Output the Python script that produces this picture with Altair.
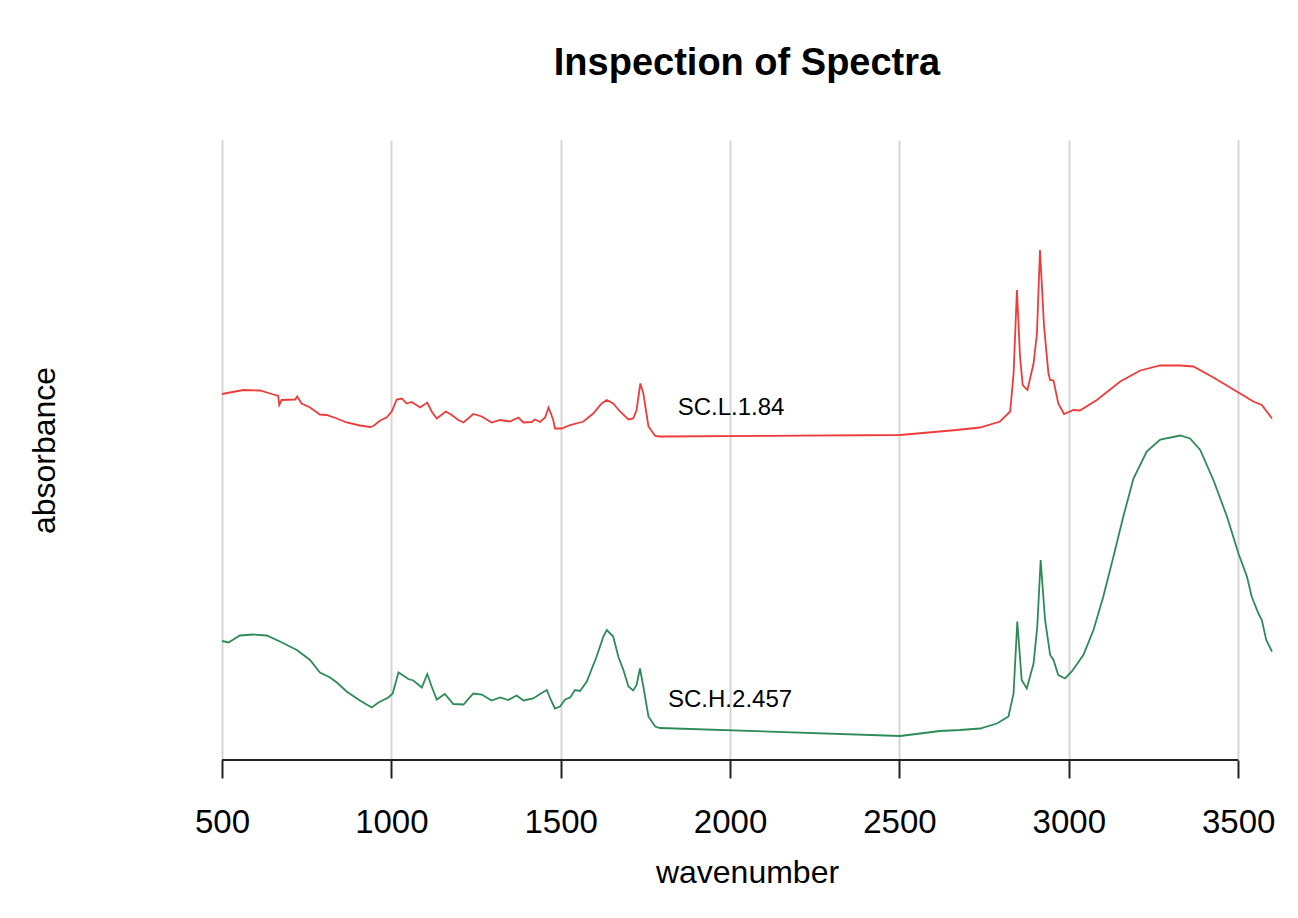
import altair as alt
import pandas as pd

# ---- data (wavenumber, absorbance with offset) ----
red_name = "SC.L.1.84"
red_wn = [500, 563, 612, 647, 666, 669, 676, 716, 722, 735, 760, 789, 809, 839, 868, 907, 937, 947,
          967, 986, 1001, 1016, 1031, 1045, 1060, 1085, 1106, 1119, 1134, 1161, 1178, 1198, 1213,
          1242, 1267, 1296, 1321, 1350, 1375, 1390, 1414, 1424, 1439, 1454, 1464, 1471, 1478, 1483,
          1503, 1528, 1547, 1567, 1596, 1621, 1636, 1655, 1675, 1700, 1714, 1724, 1735, 1744, 1759,
          1779, 1793, 2502, 2669, 2738, 2797, 2827, 2837, 2847, 2856, 2864, 2878, 2896, 2906, 2915,
          2927, 2940, 2945, 2955, 2969, 2986, 3014, 3033, 3083, 3152, 3211, 3270, 3329, 3368, 3427,
          3496, 3545, 3570, 3600]
red_abs = [0.732, 0.740, 0.739, 0.732, 0.728, 0.710, 0.720, 0.721, 0.727, 0.713, 0.705, 0.691, 0.690,
           0.683, 0.675, 0.669, 0.666, 0.668, 0.679, 0.685, 0.697, 0.721, 0.723, 0.713, 0.716, 0.705,
           0.715, 0.697, 0.683, 0.697, 0.690, 0.680, 0.675, 0.692, 0.687, 0.675, 0.680, 0.677, 0.685,
           0.675, 0.676, 0.681, 0.676, 0.685, 0.705, 0.693, 0.680, 0.663, 0.663, 0.670, 0.673, 0.677,
           0.693, 0.713, 0.720, 0.713, 0.697, 0.681, 0.683, 0.700, 0.753, 0.733, 0.667, 0.648, 0.647,
           0.650, 0.660, 0.665, 0.677, 0.697, 0.773, 0.940, 0.807, 0.750, 0.740, 0.793, 0.853, 1.020,
           0.867, 0.773, 0.760, 0.759, 0.713, 0.692, 0.700, 0.699, 0.720, 0.757, 0.779, 0.789, 0.789,
           0.787, 0.765, 0.737, 0.717, 0.710, 0.683]

green_name = "SC.H.2.457"
green_wn = [500, 519, 553, 592, 632, 671, 721, 760, 789, 819, 839, 868, 907, 942, 962, 991, 1004, 1021,
            1035, 1050, 1065, 1090, 1106, 1119, 1134, 1158, 1183, 1213, 1242, 1267, 1296, 1321, 1345,
            1370, 1390, 1419, 1439, 1459, 1469, 1483, 1498, 1513, 1528, 1542, 1557, 1577, 1606, 1626,
            1636, 1655, 1670, 1685, 1700, 1714, 1724, 1734, 1744, 1759, 1779, 1793, 2502, 2620, 2679,
            2738, 2788, 2822, 2837, 2848, 2861, 2876, 2896, 2907, 2917, 2930, 2945, 2955, 2969, 2989,
            3009, 3043, 3073, 3102, 3132, 3161, 3191, 3230, 3270, 3329, 3358, 3388, 3427, 3467, 3501,
            3526, 3540, 3560, 3570, 3583, 3600]
green_abs = [0.238, 0.235, 0.249, 0.251, 0.249, 0.237, 0.220, 0.200, 0.175, 0.165, 0.155, 0.137, 0.119,
             0.105, 0.115, 0.125, 0.133, 0.175, 0.169, 0.162, 0.159, 0.145, 0.172, 0.147, 0.121, 0.132,
             0.112, 0.111, 0.133, 0.131, 0.119, 0.125, 0.120, 0.129, 0.119, 0.123, 0.132, 0.140, 0.123,
             0.103, 0.107, 0.121, 0.125, 0.140, 0.138, 0.157, 0.207, 0.247, 0.260, 0.247, 0.207, 0.180,
             0.147, 0.139, 0.150, 0.183, 0.147, 0.087, 0.067, 0.064, 0.048, 0.058, 0.060, 0.063, 0.073,
             0.087, 0.133, 0.277, 0.160, 0.143, 0.193, 0.267, 0.400, 0.280, 0.210, 0.200, 0.170, 0.163,
             0.177, 0.210, 0.260, 0.327, 0.407, 0.487, 0.563, 0.617, 0.641, 0.649, 0.643, 0.620, 0.560,
             0.487, 0.413, 0.367, 0.327, 0.293, 0.280, 0.240, 0.217]

label_names = [red_name, green_name]
label_wn = [2003, 2000]
label_abs = [0.704, 0.120]

series_colors = ["#EE3B3B", "#2E8B57"]
tick_values = [500, 1000, 1500, 2000, 2500, 3000, 3500]

# ---- build tables ----
spec = pd.DataFrame({
    "wavenumber": red_wn + green_wn,
    "absorbance": red_abs + green_abs,
    "sample": [red_name] * len(red_wn) + [green_name] * len(green_wn),
})
labels = pd.DataFrame({"wavenumber": label_wn, "absorbance": label_abs, "sample": label_names})
axis_line = pd.DataFrame({"x": [tick_values[0]], "x2": [tick_values[-1]], "y": [0.0]})

FONT = "Liberation Sans"

x_scale = alt.Scale(domain=[500, 3600], nice=False, zero=False)
y_scale = alt.Scale(domain=[0, 1.24], nice=False, zero=False)

x_axis = alt.Axis(
    title="wavenumber", values=tick_values, format="d", grid=True, gridColor="#d6d6d6", gridWidth=2,
    domain=False, ticks=True, tickSize=18, tickWidth=2, tickColor="#222222",
    labelFontSize=33, labelFont=FONT, labelColor="black", labelPadding=28, labelFlush=False,
    titleFontSize=32, titleFont=FONT, titleFontWeight="normal", titleColor="black",
    titleY=112, titleBaseline="middle",
)
y_axis = alt.Axis(
    title="absorbance", labels=False, ticks=False, domain=False, grid=False,
    titleFontSize=32, titleFont=FONT, titleFontWeight="normal", titleColor="black",
    titleAngle=-90, titleX=-178, titleY=310, titleBaseline="middle", titleAlign="center",
)

lines = alt.Chart(spec).mark_line(strokeWidth=1.8).encode(
    x=alt.X("wavenumber:Q", scale=x_scale, axis=x_axis),
    y=alt.Y("absorbance:Q", scale=y_scale, axis=y_axis),
    color=alt.Color("sample:N", scale=alt.Scale(domain=label_names, range=series_colors), legend=None),
    detail="sample:N",
)

texts = alt.Chart(labels).mark_text(fontSize=24, font=FONT, color="black", align="center",
                                    baseline="middle").encode(
    x=alt.X("wavenumber:Q", scale=x_scale),
    y=alt.Y("absorbance:Q", scale=y_scale),
    text="sample:N",
)

base_line = alt.Chart(axis_line).mark_rule(strokeWidth=2, color="#222222").encode(
    x=alt.X("x:Q", scale=x_scale),
    x2="x2:Q",
    y=alt.Y("y:Q", scale=y_scale),
)

chart = alt.layer(lines, texts, base_line).properties(
    width=1050,
    height=620,
    title=alt.TitleParams("Inspection of Spectra", fontSize=38, font=FONT, fontWeight="bold",
                          color="black", anchor="middle", offset=57),
    autosize=alt.AutoSizeParams(type="none"),
    padding={"left": 214, "top": 132, "right": 18, "bottom": 140},
).configure_view(stroke=None)

chart.save("out.html", embed_options={"renderer": "svg", "actions": False})
